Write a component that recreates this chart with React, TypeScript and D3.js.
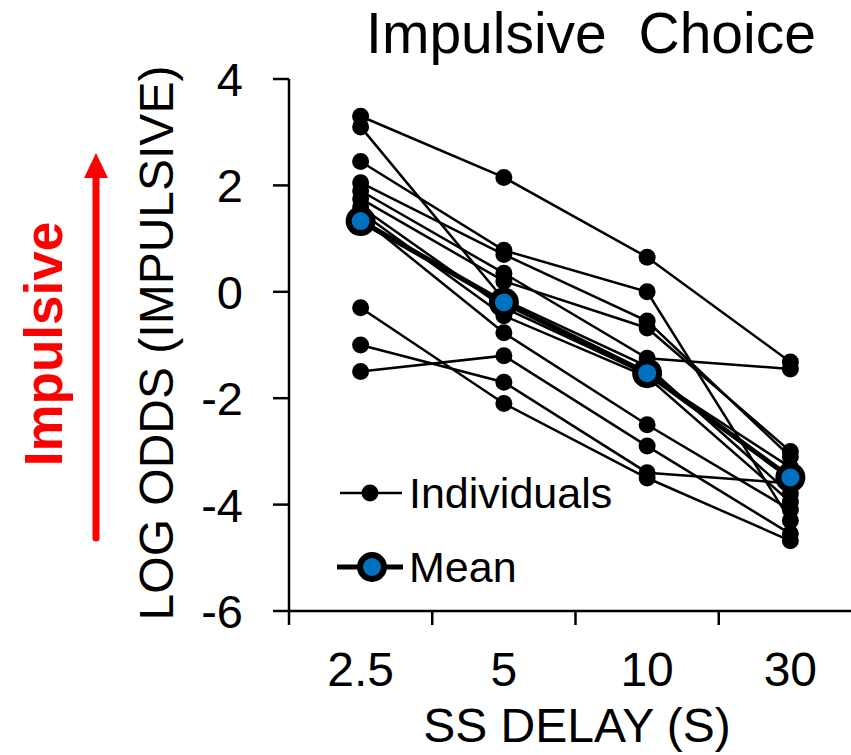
import React from "react";
import * as d3 from "d3";

const categories = ["2.5", "5", "10", "30"];
const yTicks = [4, 2, 0, -2, -4, -6];

const individuals: number[][] = [
  [3.3, 2.15, 0.65, -1.32],
  [3.1, -0.15, -1.4, -3.8],
  [2.45, 0.78, 0.0, -4.3],
  [2.05, 0.7, -0.55, -3.1],
  [1.9, 0.35, -1.25, -1.45],
  [1.75, 0.2, -0.68, -3.0],
  [1.6, -0.3, -1.55, -3.3],
  [1.5, -0.45, -1.6, -3.95],
  [1.4, -0.77, -2.5, -4.1],
  [-0.3, -2.1, -3.5, -4.68],
  [-1.0, -1.7, -3.4, -3.6],
  [-1.5, -1.2, -2.9, -4.55],
];

const meanValues = [1.33, -0.2, -1.53, -3.49];

const title = "Impulsive  Choice";
const yLabel = "LOG ODDS (IMPULSIVE)";
const xLabel = "SS DELAY (S)";
const sideLabel = "Impulsive";
const legendLabels = ["Individuals", "Mean"];

export default function App() {
  const W = 851;
  const H = 755;
  const axisX = 289;
  const axisY = 611;
  const x = d3.scaleBand<string>().domain(categories).range([axisX, 862]).paddingInner(0).paddingOuter(0);
  const y = d3.scaleLinear().domain([-6, 4]).range([611, 79]);
  const cx = (c: string) => (x(c) as number) + x.bandwidth() / 2;

  const line = d3
    .line<number>()
    .x((_, i) => cx(categories[i]))
    .y((d) => y(d));

  const font = "'Liberation Sans', Arial, sans-serif";

  return (
    <svg width={W} height={H} style={{ position: "absolute", left: 0, top: 0, background: "#fff" }} fontFamily={font}>
      <rect x={0} y={0} width={W} height={H} fill="#fff" />
      {/* title */}
      <text x={591} y={53} fontSize={57} textAnchor="middle" style={{ whiteSpace: "pre" }}>
        {title}
      </text>

      {/* y axis */}
      <line x1={axisX} x2={axisX} y1={y(4)} y2={axisY} stroke="#000" strokeWidth={2.5} />
      {yTicks.map((t) => (
        <g key={t}>
          <line x1={273} x2={axisX} y1={y(t)} y2={y(t)} stroke="#000" strokeWidth={2.5} />
          <text x={243} y={y(t)} dy="0.36em" fontSize={47} textAnchor="end">
            {t}
          </text>
        </g>
      ))}

      {/* x axis */}
      <line x1={axisX} x2={W} y1={axisY} y2={axisY} stroke="#000" strokeWidth={2.5} />
      {categories.map((c) => (
        <g key={c}>
          <line x1={x(c)} x2={x(c)} y1={axisY} y2={625} stroke="#000" strokeWidth={2.5} />
          <text x={cx(c)} y={686} fontSize={48} textAnchor="middle">
            {c}
          </text>
        </g>
      ))}
      <text x={577} y={742} fontSize={48} textAnchor="middle">
        {xLabel}
      </text>

      {/* y label */}
      <text transform="translate(173,343) rotate(-90)" fontSize={48} textAnchor="middle">
        {yLabel}
      </text>

      {/* red arrow + label */}
      <line x1={96} x2={96} y1={538} y2={172} stroke="#ff0000" strokeWidth={7} strokeLinecap="round" />
      <polygon points="84,178 108,178 96,153" fill="#ff0000" />
      <text
        transform="translate(62,344) rotate(-90)"
        fontSize={53}
        fontWeight="bold"
        fill="#ff0000"
        textAnchor="middle"
      >
        {sideLabel}
      </text>

      {/* individual lines */}
      {individuals.map((s, i) => (
        <path key={"l" + i} d={line(s) as string} fill="none" stroke="#000" strokeWidth={2.5} />
      ))}
      {individuals.map((s, i) =>
        s.map((v, j) => <circle key={"p" + i + "-" + j} cx={cx(categories[j])} cy={y(v)} r={8.5} fill="#000" />)
      )}

      {/* mean */}
      <path d={line(meanValues) as string} fill="none" stroke="#000" strokeWidth={5} />
      {meanValues.map((v, j) => (
        <circle key={"m" + j} cx={cx(categories[j])} cy={y(v)} r={12} fill="#0070C0" stroke="#000" strokeWidth={6} />
      ))}

      {/* legend */}
      <line x1={340} x2={402} y1={493} y2={493} stroke="#000" strokeWidth={2.5} />
      <circle cx={370} cy={493} r={8.5} fill="#000" />
      <text x={409} y={508} fontSize={43}>
        {legendLabels[0]}
      </text>
      <line x1={337} x2={403} y1={567} y2={567} stroke="#000" strokeWidth={5} />
      <circle cx={372} cy={567} r={12} fill="#0070C0" stroke="#000" strokeWidth={6} />
      <text x={409} y={582} fontSize={43}>
        {legendLabels[1]}
      </text>
    </svg>
  );
}
